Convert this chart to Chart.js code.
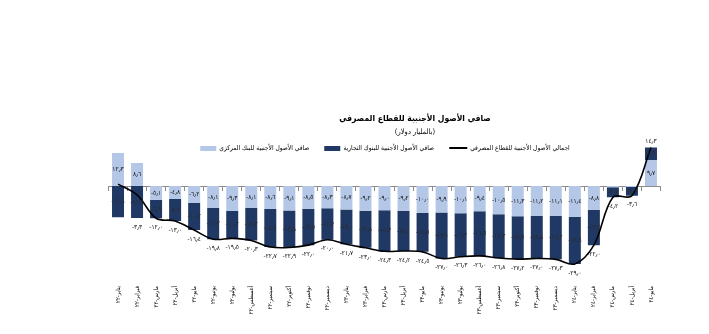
<!DOCTYPE html>
<html lang="ar">
<head>
<meta charset="utf-8">
<script src="https://cdn.jsdelivr.net/npm/chart.js@4.4.1/dist/chart.umd.min.js"></script>
<style>
  html, body { margin: 0; padding: 0; background: #fff; }
  #wrap { position: relative; width: 709px; height: 334px; font-family: "DejaVu Sans Condensed", Arial, "DejaVu Sans", sans-serif; }
  #chart { position: absolute; left: 0; top: 0; }
  .title { position: absolute; left: 415px; transform: translateX(-50%); white-space: nowrap; color: #000; }
  #t1 { top: 113px; font-size: 8.5px; font-weight: bold; }
  #t2 { top: 127px; font-size: 7.5px; }
  #legend { position: absolute; left: 385px; top: 144px; transform: translateX(-50%); display: flex; gap: 15px; white-space: nowrap; font-size: 6.6px; color: #000; }
  .item { display: flex; align-items: center; gap: 3px; }
  .sym { display: inline-block; }
</style>
</head>
<body>
<div id="wrap">
  <canvas id="chart" width="709" height="334"></canvas>
  <div class="title" id="t1">صافي الأصول الأجنبية للقطاع المصرفي</div>
  <div class="title" id="t2">(بالمليار دولار)</div>
  <div id="legend"></div>
</div>
<script>
// categories (month-year)
const categories = [
  'يناير-٢٢','فبراير-٢٢','مارس-٢٢','أبريل-٢٢','مايو-٢٢','يونيو-٢٢','يوليو-٢٢','أغسطس-٢٢','سبتمبر-٢٢','أكتوبر-٢٢','نوفمبر-٢٢','ديسمبر-٢٢',
  'يناير-٢٣','فبراير-٢٣','مارس-٢٣','أبريل-٢٣','مايو-٢٣','يونيو-٢٣','يوليو-٢٣','أغسطس-٢٣','سبتمبر-٢٣','أكتوبر-٢٣','نوفمبر-٢٣','ديسمبر-٢٣',
  'يناير-٢٤','فبراير-٢٤','مارس-٢٤','أبريل-٢٤','مايو-٢٤'
];
// net foreign assets, bn USD
const centralBank = [12.3, 8.6, -5.1, -4.8, -6.2, -8.1, -9.3, -8.1, -8.6, -9.1, -8.5, -8.3,
  -8.7, -9.2, -9.0, -9.2, -10.0, -9.9, -10.1, -9.4, -10.5, -11.3, -11.2, -11.1,
  -11.4, -8.8, -0.5, -0.4, 9.7];
const commercialBanks = [-11.6, -11.9, -6.9, -8.2, -10.2, -11.7, -10.2, -12.2, -14.1, -13.8, -13.5, -11.7,
  -13.0, -13.8, -15.3, -15.0, -14.5, -17.1, -16.2, -16.6, -16.3, -15.9, -15.8, -16.2,
  -17.6, -13.2, -3.7, -3.2, 4.6];
const bankingTotal = [0.7, -3.3, -12.0, -13.0, -16.4, -19.8, -19.5, -20.3, -22.7, -22.9, -22.0, -20.0,
  -21.7, -23.0, -24.3, -24.2, -24.5, -27.0, -26.3, -26.0, -26.8, -27.2, -27.0, -27.3,
  -29.0, -22.0, -4.2, -3.6, 14.3];

const LIGHT = '#B4C7E7';
const NAVY = '#203864';
const FONT = '"DejaVu Sans Condensed", Arial, "DejaVu Sans", sans-serif';

const AR_DIGITS = '٠١٢٣٤٥٦٧٨٩';
function arNum(v) {
  const s = Math.abs(v).toFixed(1).replace('.', '٫').replace(/\d/g, d => AR_DIGITS[d]);
  return (v < 0 ? '-' : '') + s;
}

// value labels: centre of each bar segment, total under/over the stack
const valueLabels = {
  id: 'valueLabels',
  afterDatasetsDraw(chart) {
    const ctx = chart.ctx;
    ctx.save();
    ctx.direction = 'ltr';
    ctx.font = '6.5px ' + FONT;
    ctx.textAlign = 'center';
    ctx.textBaseline = 'middle';
    [0, 1].forEach(di => {
      const ds = chart.data.datasets[di];
      ctx.fillStyle = di === 0 ? '#111' : '#2b2b2b';
      chart.getDatasetMeta(di).data.forEach((el, j) => {
        const v = ds.data[j];
        if (Math.abs(v) < 1) return;
        ctx.fillText(arNum(v), el.x, (el.y + el.base) / 2);
      });
    });
    ctx.fillStyle = '#111';
    const lineMeta = chart.getDatasetMeta(2);
    lineMeta.data.forEach((pt, j) => {
      const v = bankingTotal[j];
      if (Math.abs(v) < 1) return;
      const ys = [pt.y];
      [0, 1].forEach(di => {
        const el = chart.getDatasetMeta(di).data[j];
        ys.push(el.y, el.base);
      });
      if (v < 0) ctx.fillText(arNum(v), pt.x, Math.max(...ys) + 9);
      else ctx.fillText(arNum(v), pt.x, Math.min(...ys) - 6);
    });
    ctx.restore();
  }
};

const chart = new Chart(document.getElementById('chart'), {
  type: 'bar',
  data: {
    labels: categories,
    datasets: [
      { label: 'صافي الأصول الأجنبية للبنك المركزي', data: centralBank, backgroundColor: LIGHT, stack: 'bars', order: 1 },
      { label: 'صافي الأصول الأجنبية للبنوك التجارية', data: commercialBanks, backgroundColor: NAVY, stack: 'bars', order: 1 },
      { type: 'line', label: 'اجمالي الأصول الأجنبية للقطاع المصرفي', data: bankingTotal, borderColor: '#000', borderWidth: 1.6,
        pointRadius: 0, tension: 0.35, fill: false, stack: 'total', order: 0 }
    ]
  },
  options: {
    responsive: false,
    animation: false,
    layout: { padding: { left: 108.5, right: 48.5, top: 143, bottom: 0 } },
    datasets: { bar: { categoryPercentage: 1, barPercentage: 0.63 } },
    scales: {
      x: {
        stacked: true,
        grid: { display: false },
        border: { display: false },
        ticks: { autoSkip: false, minRotation: 90, maxRotation: 90, padding: 6, color: '#000', font: { size: 6, family: FONT } },
        afterFit(s) { s.height = 62; }
      },
      xz: {
        axis: 'x',
        type: 'category',
        position: { y: 0 },
        offset: true,
        grid: { offset: true, drawOnChartArea: false, drawTicks: true, tickLength: 4, color: '#8c8c8c' },
        border: { display: true, color: '#8c8c8c', width: 1 },
        ticks: { display: false }
      },
      y: { stacked: true, display: false, min: -32, max: 16 }
    },
    plugins: {
      legend: { display: false },
      title: { display: false },
      tooltip: { enabled: false }
    }
  },
  plugins: [valueLabels]
});

// legend built from the datasets, left to right in dataset order
const legendEl = document.getElementById('legend');
chart.data.datasets.forEach(ds => {
  const item = document.createElement('div');
  item.className = 'item';
  const sym = document.createElement('span');
  sym.className = 'sym';
  if (ds.type === 'line') {
    sym.style.cssText = 'width:18px;height:2px;background:' + ds.borderColor;
  } else {
    sym.style.cssText = 'width:16px;height:5px;background:' + ds.backgroundColor;
  }
  const txt = document.createElement('span');
  txt.textContent = ds.label;
  item.appendChild(sym);
  item.appendChild(txt);
  legendEl.appendChild(item);
});
</script>
</body>
</html>
